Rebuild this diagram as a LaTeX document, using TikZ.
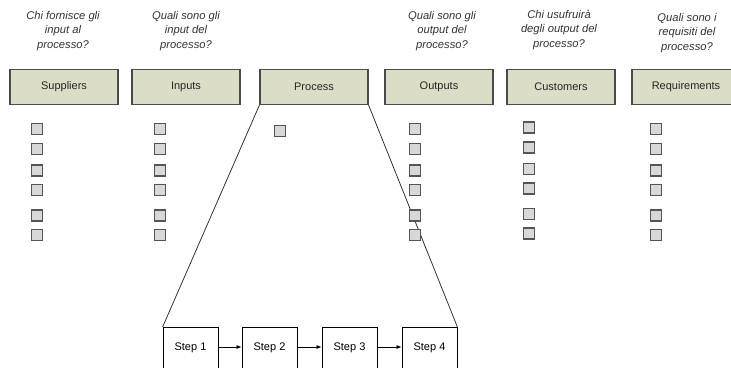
\documentclass[tikz,border=0pt]{standalone}
\usepackage{fontspec}
\setmainfont{Liberation Sans}
\usetikzlibrary{arrows.meta}
\definecolor{headfill}{HTML}{DCDDC6}
\definecolor{headline}{HTML}{4A4A4A}
\definecolor{boxfill}{HTML}{D8D8D8}
\definecolor{boxline}{HTML}{555555}
\definecolor{qtext}{HTML}{333333}
\begin{document}
\begin{tikzpicture}[x=1bp,y=-1bp,
  header/.style={draw=headline,line width=1.1bp,fill=headfill,minimum width=108bp,minimum height=35bp,
    inner sep=0pt,font=\fontsize{11bp}{13bp}\selectfont,text=black!85},
  question/.style={align=center,font=\fontsize{11.2bp}{14.5bp}\selectfont\itshape,text=qtext},
  item/.style={draw=boxline,line width=1.3bp,fill=boxfill,minimum size=11bp,inner sep=0pt},
  stepbox/.style={draw=black,line width=0.8bp,fill=white,minimum width=55bp,minimum height=48bp,
    inner sep=0pt,anchor=north,text depth=10bp,font=\fontsize{11bp}{13bp}\selectfont},
  flow/.style={draw=black,line width=0.8bp,-{Latex[length=5bp,width=4bp]}},
  zoomline/.style={draw=black!80,line width=0.8bp}]
\useasboundingbox (0,0) rectangle (731,367);
\clip (0,0) rectangle (731,367);

% questions
\node[question] (q1) at (63,31) {Chi fornisce gli\\input al\\processo?};
\node[question] (q2) at (186,31) {Quali sono gli\\input del\\processo?};
\node[question] (q4) at (442,31) {Quali sono gli\\output del\\processo?};
\node[question] (q5) at (559,30) {Chi usufruirà\\degli output del\\processo?};
\node[question] (q6) at (687,33) {Quali sono i\\requisiti del\\processo?};

% SIPOC headers
\node[header] (sup) at (64,87) {Suppliers};
\node[header] (inp) at (186,87) {Inputs};
\node[header] (proc) at (314,87) {Process};
\node[header] (out) at (439,87) {Outputs};
\node[header] (cus) at (561,87) {Customers};
\node[header] (req) at (686,87) {Requirements};

% process steps
\node[stepbox] (s1) at (190.5,327) {Step 1};
\node[stepbox] (s2) at (269.5,327) {Step 2};
\node[stepbox] (s3) at (349.5,327) {Step 3};
\node[stepbox] (s4) at (429.5,327) {Step 4};
\draw[flow] (s1.east |- 0,347) -- (s2.west |- 0,347);
\draw[flow] (s2.east |- 0,347) -- (s3.west |- 0,347);
\draw[flow] (s3.east |- 0,347) -- (s4.west |- 0,347);

% zoom from the process header to its steps
\draw[zoomline] (proc.south west) -- (s1.north west);
\draw[zoomline] (proc.south east) -- (s4.north east);

% item boxes
\foreach \y [count=\i] in {129,149,170.5,190,215.5,235} {
  \node[item] (sup\i) at (37,\y) {};
  \node[item] (inp\i) at (160,\y) {};
  \node[item] (out\i) at (415,\y) {};
  \node[item] (cus\i) at (529,\y-1.5) {};
  \node[item] (req\i) at (656,\y) {};
}
\node[item] (proc1) at (280,131) {};
\end{tikzpicture}
\end{document}
